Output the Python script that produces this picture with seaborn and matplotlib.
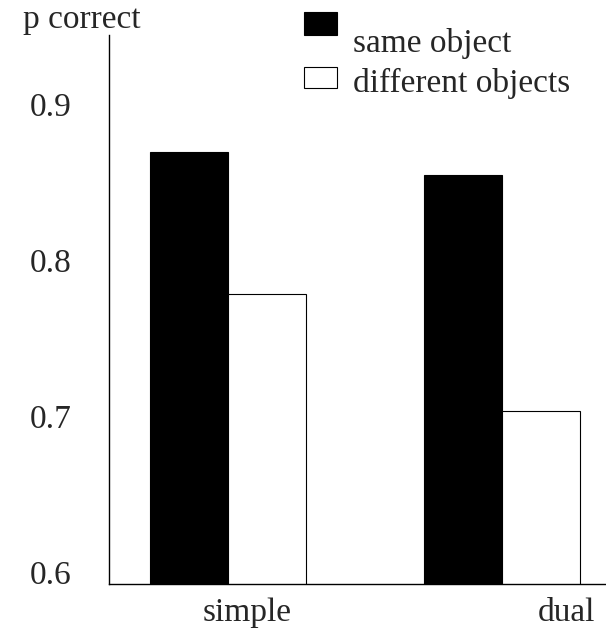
import pandas as pd
import seaborn as sns
import matplotlib.pyplot as plt
from matplotlib.patches import Rectangle

conditions = ['simple', 'dual']
same_object = [0.877, 0.862]
different_objects = [0.786, 0.711]
y_ticks = [0.6, 0.7, 0.8, 0.9]

df = pd.DataFrame({
    'condition': conditions * 2,
    'p': same_object + different_objects,
    'object': ['same object'] * 2 + ['different objects'] * 2,
})

sns.set_style('white')
plt.rcParams['font.family'] = ['Liberation Serif', 'DejaVu Serif']

W, H = 606, 632
fig = plt.figure(figsize=(W / 100, H / 100), dpi=100)
ax = fig.add_axes([109 / W, 48 / H, 497 / W, 549 / H])

sns.barplot(data=df, x='condition', y='p', hue='object',
            palette=['black', 'white'], edgecolor='black', linewidth=0.8,
            width=0.57, saturation=1, legend=False, ax=ax)

ax.set_xlim(-0.434, 1.38)
ax.set_ylim(0.6, 0.952)
ax.set_yticks(y_ticks)
ax.set_yticklabels([str(t) for t in y_ticks], fontsize=24)
for lbl in ax.get_yticklabels():
    lbl.set_va('baseline')
ax.set_xticks([0.069, 1.237])
ax.set_xticklabels(conditions, fontsize=24)
ax.tick_params(axis='y', length=0, pad=27)
ax.tick_params(axis='x', length=0, pad=10)
ax.set_xlabel('')
ax.set_ylabel('')
for s in ['top', 'right']:
    ax.spines[s].set_visible(False)
for s in ['left', 'bottom']:
    ax.spines[s].set_color('black')
    ax.spines[s].set_linewidth(1.0)

fig.text(23 / W, 1 - 28 / H, 'p correct', fontsize=24, va='baseline')

# legend drawn by hand to keep the odd layout
fig.add_artist(Rectangle((304 / W, 1 - 35 / H), 33 / W, 23 / H,
                         facecolor='black', edgecolor='black', lw=0.8,
                         transform=fig.transFigure))
fig.add_artist(Rectangle((304 / W, 1 - 88 / H), 33 / W, 21 / H,
                         facecolor='white', edgecolor='black', lw=0.8,
                         transform=fig.transFigure))
fig.text(353 / W, 1 - 52 / H, 'same object', fontsize=24, va='baseline')
fig.text(353 / W, 1 - 92 / H, 'different objects', fontsize=24, va='baseline')

fig.savefig('out.png', dpi=100)
